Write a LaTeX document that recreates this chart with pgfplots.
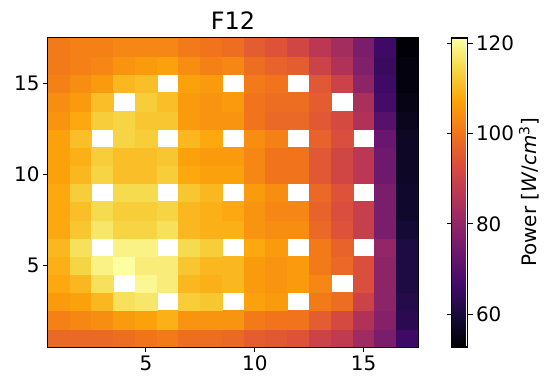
\documentclass[border=0pt]{standalone}
\usepackage{pgfplots}
\pgfplotsset{compat=1.18}
\usepackage{fontspec}
\setmainfont{DejaVu Sans}
\pgfplotsset{
  colormap={inferno}{rgb255=(0,0,4) rgb255=(22,11,57) rgb255=(66,10,104) rgb255=(106,23,110) rgb255=(147,38,103) rgb255=(188,55,84) rgb255=(221,81,58) rgb255=(243,120,25) rgb255=(252,165,10) rgb255=(246,215,70) rgb255=(252,255,164)}
}
\pgfplotstableread{
x y z
1 1 98
2 1 98
3 1 98
4 1 99
5 1 100
6 1 101
7 1 99
8 1 99
9 1 98
10 1 96
11 1 95
12 1 94
13 1 90
14 1 88
15 1 82
16 1 76
17 1 66
1 2 102
2 2 103
3 2 104
4 2 106
5 2 107
6 2 109
7 2 105
8 2 105
9 2 105
10 2 101
11 2 100
12 2 100
13 2 96
14 2 92
15 2 85
16 2 78
17 2 63
1 3 106
2 3 107
3 3 110
4 3 116
5 3 117
6 3 nan
7 3 113
8 3 112
9 3 nan
10 3 107
11 3 106
12 3 nan
13 3 101
14 3 99
15 3 90
16 3 79
17 3 62
1 4 108
2 4 110
3 4 116
4 4 nan
5 4 120
6 4 118
7 4 110
8 4 109
9 4 110
10 4 106
11 4 105
12 4 106
13 4 103
14 4 nan
15 4 93
16 4 79
17 4 61
1 5 109
2 5 114
3 5 119
4 5 121
5 5 118
6 5 118
7 5 112
8 5 110
9 5 110
10 5 106
11 5 105
12 5 106
13 5 101
14 5 98
15 5 93
16 5 79
17 5 61
1 6 110
2 6 116
3 6 nan
4 6 119
5 6 119
6 6 nan
7 6 115
8 6 113
9 6 nan
10 6 108
11 6 106
12 6 nan
13 6 101
14 6 97
15 6 nan
16 6 80
17 6 61
1 7 108
2 7 112
3 7 117
4 7 114
5 7 114
6 7 116
7 7 110
8 7 109
9 7 109
10 7 105
11 7 104
12 7 104
13 7 98
14 7 94
15 7 89
16 7 76
17 7 59
1 8 108
2 8 111
3 8 115
4 8 113
5 8 113
6 8 114
7 8 110
8 8 109
9 8 108
10 8 105
11 8 103
12 8 103
13 8 97
14 8 93
15 8 89
16 8 76
17 8 58
1 9 108
2 9 113
3 9 nan
4 9 115
5 9 115
6 9 nan
7 9 112
8 9 110
9 9 nan
10 9 106
11 9 104
12 9 nan
13 9 98
14 9 94
15 9 nan
16 9 76
17 9 58
1 10 107
2 10 110
3 10 114
4 10 111
5 10 111
6 10 113
7 10 108
8 10 107
9 10 107
10 10 103
11 10 100
12 10 100
13 10 95
14 10 91
15 10 87
16 10 74
17 10 57
1 11 107
2 11 109
3 11 113
4 11 111
5 11 111
6 11 112
7 11 107
8 11 106
9 11 106
10 11 103
11 11 100
12 11 100
13 11 95
14 11 91
15 11 87
16 11 74
17 11 57
1 12 107
2 12 111
3 12 nan
4 12 114
5 12 113
6 12 nan
7 12 110
8 12 108
9 12 nan
10 12 104
11 12 102
12 12 nan
13 12 97
14 12 93
15 12 nan
16 12 73
17 12 57
1 13 105
2 13 108
3 13 113
4 13 114
5 13 112
6 13 112
7 13 106
8 13 105
9 13 105
10 13 100
11 13 98
12 13 98
13 13 95
14 13 92
15 13 85
16 13 70
17 13 56
1 14 104
2 14 106
3 14 111
4 14 nan
5 14 113
6 14 111
7 14 106
8 14 105
9 14 106
10 14 100
11 14 99
12 14 99
13 14 96
14 14 nan
15 14 84
16 14 67
17 14 55
1 15 102
2 15 104
3 15 106
4 15 110
5 15 111
6 15 nan
7 15 107
8 15 106
9 15 nan
10 15 101
11 15 100
12 15 nan
13 15 95
14 15 90
15 15 79
16 15 66
17 15 54
1 16 101
2 16 102
3 16 103
4 16 105
5 16 106
6 16 107
7 16 104
8 16 102
9 16 103
10 16 99
11 16 97
12 16 96
13 16 90
14 16 85
15 16 77
16 16 65
17 16 54
1 17 101
2 17 102
3 17 102
4 17 103
5 17 103
6 17 103
7 17 101
8 17 100
9 17 99
10 17 96
11 17 94
12 17 91
13 17 87
14 17 83
15 17 76
16 17 66
17 17 53
}\datatable
\begin{document}
\begin{tikzpicture}
\useasboundingbox (-48bp,-42bp) rectangle (506bp,347bp);
\begin{axis}[
  at={(0,0)}, anchor=south west,
  scale only axis, width=370bp, height=309bp,
  xmin=0.5, xmax=17.5, ymin=0.5, ymax=17.5,
  xtick={5,10,15}, ytick={5,10,15},
  tick align=outside, tick pos=left,
  major tick length=5bp,
  tick style={black, line width=1.1bp},
  axis line style={line width=1.1bp},
  tick label style={font=\fontsize{20}{24}\selectfont},
  /pgf/number format/assume math mode=true,
  title={F12}, title style={font=\fontsize{24}{28}\selectfont, yshift=-1bp},
  colormap name=inferno,
  point meta min=52.7, point meta max=121.2,
  unbounded coords=jump,
  colorbar,
  colorbar style={
    at={(parent axis.north east)}, anchor=north west, xshift=25bp,
    width=16bp,
    ytick={60,80,100,120},
    tick align=outside,
    major tick length=5bp,
    tick style={black, line width=1.1bp},
    axis line style={line width=1.1bp},
    /pgf/number format/assume math mode=true,
    yticklabel style={font=\fontsize{20}{24}\selectfont},
    ylabel={Power [\textit{W}/\textit{cm}\textsuperscript{3}]},
    ylabel style={font=\fontsize{20}{24}\selectfont, yshift=2bp},
  },
]
\addplot[matrix plot*, mesh/cols=17, point meta=explicit] table[x=x, y=y, meta=z] {\datatable};
\end{axis}
\end{tikzpicture}
\end{document}
